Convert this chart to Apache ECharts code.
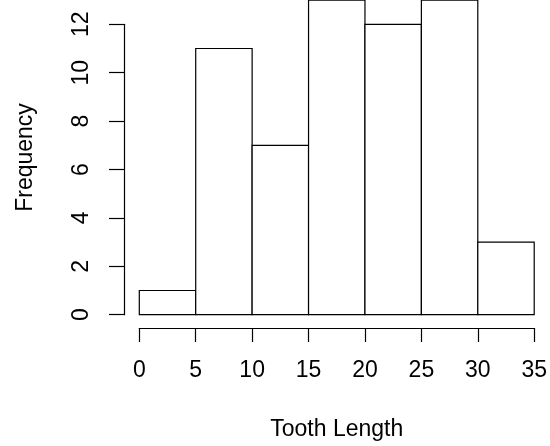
<!DOCTYPE html>
<html>
<head>
<meta charset="utf-8">
<script src="https://cdn.jsdelivr.net/npm/echarts@6/dist/echarts.min.js"></script>
<style>
  html, body { margin: 0; padding: 0; background: #ffffff; }
  #chart { width: 550px; height: 446px; }
</style>
</head>
<body>
<div id="chart"></div>
<script>
// Histogram of tooth length (ToothGrowth)
const binStarts = [0, 5, 10, 15, 20, 25, 30];
const binEnds   = [5, 10, 15, 20, 25, 30, 35];
const counts    = [1, 11, 7, 13, 12, 13, 3];
const xTickValues = [0, 5, 10, 15, 20, 25, 30, 35];
const yTickValues = [0, 2, 4, 6, 8, 10, 12];
const xTitle = 'Tooth Length';
const yTitle = 'Frequency';

const FONT = '"Liberation Sans", Arial, Helvetica, sans-serif';
const FS = 23;

const bins = binStarts.map((s, i) => [s, binEnds[i], counts[i]]);

const chart = echarts.init(document.getElementById('chart'), null, { renderer: 'canvas' });
chart.setOption({
  animation: false,
  backgroundColor: '#ffffff',
  grid: { left: 139.3, right: 15.7, top: 24.3, bottom: 130.3 },
  xAxis: {
    type: 'value',
    min: xTickValues[0],
    max: xTickValues[xTickValues.length - 1],
    interval: 5,
    offset: 13.3,
    splitLine: { show: false },
    axisLine: { show: true, onZero: false, lineStyle: { color: '#000', width: 1.2 } },
    axisTick: { show: true, length: 14, lineStyle: { color: '#000', width: 1.2 } },
    axisLabel: { color: '#000', fontFamily: FONT, fontSize: FS, margin: 31 },
    name: xTitle,
    nameLocation: 'middle',
    nameGap: 90,
    nameTextStyle: { color: '#000', fontFamily: FONT, fontSize: FS }
  },
  yAxis: {
    type: 'value',
    min: yTickValues[0],
    max: yTickValues[yTickValues.length - 1],
    interval: 2,
    offset: 15.3,
    splitLine: { show: false },
    axisLine: { show: true, onZero: false, lineStyle: { color: '#000', width: 1.2 } },
    axisTick: { show: true, length: 15, lineStyle: { color: '#000', width: 1.2 } },
    axisLabel: { color: '#000', fontFamily: FONT, fontSize: FS, margin: 31, rotate: 90, align: 'center', verticalAlign: 'bottom' },
    name: yTitle,
    nameLocation: 'middle',
    nameRotate: 90,
    nameGap: 87,
    nameTextStyle: { color: '#000', fontFamily: FONT, fontSize: FS, padding: [0, 0, 0, 24] }
  },
  series: [{
    type: 'custom',
    clip: false,
    data: bins,
    encode: { x: [0, 1], y: 2 },
    renderItem: function (params, api) {
      const p0 = api.coord([api.value(0), api.value(2)]);
      const p1 = api.coord([api.value(1), 0]);
      return {
        type: 'rect',
        shape: { x: p0[0], y: p0[1], width: p1[0] - p0[0], height: p1[1] - p0[1] },
        style: { fill: '#ffffff', stroke: '#000000', lineWidth: 1.2 }
      };
    }
  }]
});
</script>
</body>
</html>
